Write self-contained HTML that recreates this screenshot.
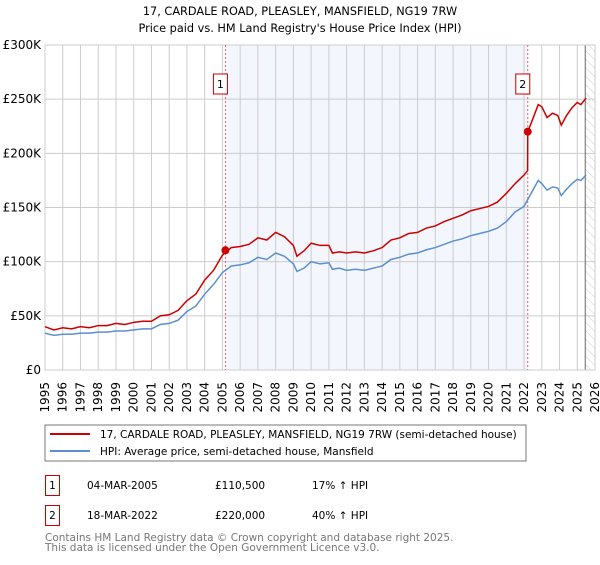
<!DOCTYPE html>
<html><head><meta charset="utf-8"><style>
body{margin:0;background:#fff;font-family:"Liberation Sans","DejaVu Sans",sans-serif;}
svg text{font-family:"DejaVu Sans","Liberation Sans",sans-serif;}
</style></head><body>
<svg id="c" width="600" height="560" xmlns="http://www.w3.org/2000/svg">
<defs><pattern id="hatch" width="6" height="6" patternUnits="userSpaceOnUse" patternTransform="rotate(-45)"><line x1="0" y1="0" x2="0" y2="6" stroke="#ccc" stroke-width="1"/></pattern></defs>
<text x="300" y="15" text-anchor="middle" font-size="11.3" fill="#000">17, CARDALE ROAD, PLEASLEY, MANSFIELD, NG19 7RW</text>
<text x="300" y="32" text-anchor="middle" font-size="11.3" fill="#000">Price paid vs. HM Land Registry's House Price Index (HPI)</text>
<g id="plot"></g>
<rect x="45" y="425" width="481" height="36" fill="#fff" stroke="#777"/>
<line x1="50" y1="434" x2="90" y2="434" stroke="#cc0000" stroke-width="2"/>
<text x="100" y="438" font-size="10.5">17, CARDALE ROAD, PLEASLEY, MANSFIELD, NG19 7RW (semi-detached house)</text>
<line x1="50" y1="451" x2="90" y2="451" stroke="#5b8fd0" stroke-width="2"/>
<text x="100" y="455" font-size="10.5">HPI: Average price, semi-detached house, Mansfield</text>
<g>
<rect x="45.5" y="475.5" width="14" height="20" fill="#fff" stroke="#cc0000"/>
<text x="52.5" y="489" font-size="10.5" text-anchor="middle">1</text>
<text x="87" y="489" font-size="10.5">04-MAR-2005</text>
<text x="215" y="489" font-size="10.5">£110,500</text>
<text x="312" y="489" font-size="10.5">17% ↑ HPI</text></g>
<g>
<rect x="45.5" y="505.5" width="14" height="20" fill="#fff" stroke="#cc0000"/>
<text x="52.5" y="519" font-size="10.5" text-anchor="middle">2</text>
<text x="87" y="519" font-size="10.5">18-MAR-2022</text>
<text x="215" y="519" font-size="10.5">£220,000</text>
<text x="312" y="519" font-size="10.5">40% ↑ HPI</text></g>
<text x="45" y="541" font-size="10.5" fill="#777">Contains HM Land Registry data © Crown copyright and database right 2025.</text>
<text x="45" y="551" font-size="10.5" fill="#777">This data is licensed under the Open Government Licence v3.0.</text>
</svg>
<script>
const hpiYears=[1995,1995.5,1996,1996.5,1997,1997.5,1998,1998.5,1999,1999.5,2000,2000.5,2001,2001.5,2002,2002.5,2003,2003.5,2004,2004.5,2005,2005.5,2006,2006.5,2007,2007.5,2008,2008.5,2009,2009.2,2009.6,2010,2010.5,2011,2011.2,2011.6,2012,2012.5,2013,2013.5,2014,2014.5,2015,2015.5,2016,2016.5,2017,2017.5,2018,2018.5,2019,2019.5,2020,2020.5,2021,2021.5,2022,2022.2,2022.5,2022.8,2023,2023.3,2023.6,2023.9,2024.1,2024.4,2024.7,2025,2025.2,2025.5];
const hpiValues=[34,32,33,33,34,34,35,35,36,36,37,38,38,42,43,46,54,59,70,79,90,96,97,99,104,102,108,105,98,91,94,100,98,99,93,94,92,93,92,94,96,102,104,107,108,111,113,116,119,121,124,126,128,131,137,146,151,157,166,175,172,166,169,168,161,167,172,176,175,180];
const priceYears=[1995,1995.5,1996,1996.5,1997,1997.5,1998,1998.5,1999,1999.5,2000,2000.5,2001,2001.5,2002,2002.5,2003,2003.5,2004,2004.5,2005,2005.5,2006,2006.5,2007,2007.5,2008,2008.5,2009,2009.2,2009.6,2010,2010.5,2011,2011.2,2011.6,2012,2012.5,2013,2013.5,2014,2014.5,2015,2015.5,2016,2016.5,2017,2017.5,2018,2018.5,2019,2019.5,2020,2020.5,2021,2021.5,2022,2022.2,2022.21,2022.5,2022.8,2023,2023.3,2023.6,2023.9,2024.1,2024.4,2024.7,2025,2025.2,2025.5];
const priceValues=[40,37,39,38,40,39,41,41,43,42,44,45,45,50,51,55,64,70,83,92,106,113,114,116,122,120,127,123,115,105,110,117,115,115,108,109,108,109,108,110,113,120,122,126,127,131,133,137,140,143,147,149,151,155,163,172,180,184,220,232,245,243,233,237,235,226,235,242,247,245,251];
const saleYears=[2005.17,2022.21];
const saleValues=[110.5,220];
const saleLabels=["1","2"];
const yTicks=[0,50,100,150,200,250,300];
const yTickLabels=["£0","£50K","£100K","£150K","£200K","£250K","£300K"];
const xTicks=[1995,1996,1997,1998,1999,2000,2001,2002,2003,2004,2005,2006,2007,2008,2009,2010,2011,2012,2013,2014,2015,2016,2017,2018,2019,2020,2021,2022,2023,2024,2025,2026];
const dataEnd=2025.45;
const X0=45,X1=595,Y0=370,Y1=45;
const xs=y=>X0+(y-1995)/(2026-1995)*(X1-X0);
const ys=v=>Y0-v/300*(Y0-Y1);
const NS="http://www.w3.org/2000/svg";
const g=document.getElementById('plot');
function mk(t,a,p){const e=document.createElementNS(NS,t);for(const k in a)e.setAttribute(k,a[k]);(p||g).appendChild(e);return e;}
const shade=mk('rect',{x:xs(saleYears[0]),y:Y1,width:xs(saleYears[1])-xs(saleYears[0]),height:Y0-Y1,fill:'#f3f6fd'});


const hat=mk('rect',{x:xs(dataEnd),y:Y1,width:X1-xs(dataEnd),height:Y0-Y1,fill:'url(#hatch)'});


xTicks.forEach(t=>{
 const l=mk('line',{x1:xs(t),x2:xs(t),y1:Y1,y2:Y0,stroke:'#ccc','stroke-width':1});
 
 
 const tx=mk('text',{x:0,y:0,'font-size':12,'text-anchor':'end',transform:`translate(${xs(t)+4},${Y0+12}) rotate(-90)`});
 tx.textContent=t;
 
 
});
yTicks.forEach((t,i)=>{
 const l=mk('line',{x1:X0,x2:X1,y1:ys(t),y2:ys(t),stroke:'#ccc','stroke-width':1});
 
 
 const tx=mk('text',{x:X0-4,y:ys(t)+4,'font-size':12,'text-anchor':'end'});
 tx.textContent=yTickLabels[i];
 
 
});
const ed=mk('line',{x1:xs(dataEnd),x2:xs(dataEnd),y1:Y1,y2:Y0,stroke:'#666','stroke-width':1});


const fr=mk('rect',{x:X0,y:Y1,width:X1-X0,height:Y0-Y1,fill:'none',stroke:'#ccc'});


saleYears.forEach((s,i)=>{
 const l=mk('line',{x1:xs(s),x2:xs(s),y1:Y1,y2:Y0,stroke:'#e06060','stroke-width':1,'stroke-dasharray':'2,2'});
 
 
 const b=mk('rect',{x:xs(s)-12,y:74,width:14,height:20,fill:'#fff',stroke:'#cc0000'});
 
 
 const t=mk('text',{x:xs(s)-5,y:88,'font-size':11,'text-anchor':'middle'});
 t.textContent=saleLabels[i];
 
 
});
const hp=mk('polyline',{points:hpiYears.map((y,i)=>xs(y)+','+ys(hpiValues[i])).join(' '),fill:'none',stroke:'#5b8fd0','stroke-width':1.5});


const pp=mk('polyline',{points:priceYears.map((y,i)=>xs(y)+','+ys(priceValues[i])).join(' '),fill:'none',stroke:'#cc0000','stroke-width':1.5});


saleYears.forEach((s,i)=>{
 const c=mk('circle',{cx:xs(s),cy:ys(saleValues[i]),r:4,fill:'#cc0000'});
 
 
});
</script>
</body></html>
